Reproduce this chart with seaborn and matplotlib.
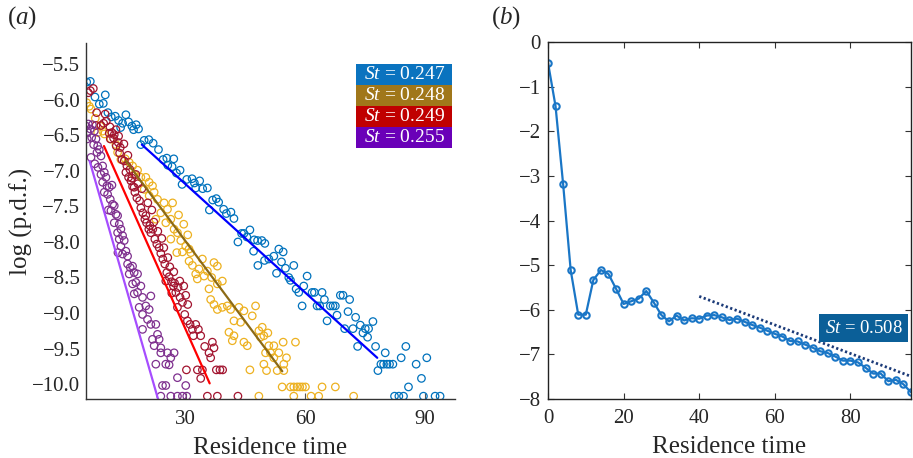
import matplotlib
matplotlib.use("Agg")
import matplotlib.pyplot as plt
import seaborn as sns
from matplotlib.patches import Rectangle

# ---------------- panel (a): log p.d.f. of residence time ----------------
st247_t = [5.17, 6.08, 7.25, 8.33, 9.33, 9.83, 10.5, 11.33, 12.33, 13.17, 13.67, 14.17, 15.0, 15.67,
           16.5, 16.92, 17.58, 18.17, 18.75, 19.58, 20.75, 21.83, 23.17, 24.33, 25.25, 25.5, 26.58,
           27.0, 27.67, 28.58, 29.08, 30.25, 31.58, 32.17, 32.5, 33.5, 34.25, 35.42, 35.92, 36.75,
           37.67, 38.25, 39.5, 40.17, 41.33, 42.08, 43.08, 44.0, 44.58, 45.33, 46.08, 47.0, 47.17,
           48.0, 48.08, 49.08, 49.75, 49.83, 50.83, 52.08, 52.75, 53.33, 54.0, 54.42, 55.0, 55.83,
           56.25, 57.08, 57.67, 58.33, 59.17, 59.58, 60.42, 61.67, 62.25, 62.92, 63.58, 64.17, 64.75,
           65.42, 66.25, 66.92, 67.5, 67.92, 68.75, 69.42, 69.83, 70.67, 71.08, 71.92, 72.58, 73.08,
           73.75, 74.42, 75.0, 75.58, 75.83, 76.92, 77.58, 78.17, 78.92, 79.58, 80.0, 80.42, 81.08,
           81.92, 82.33, 83.42, 84.0, 84.58, 85.17, 85.83, 87.75, 89.08, 89.58, 90.42, 92.5, 93.75]
st247_logp = [-5.75, -5.74, -5.96, -6.06, -6.05, -5.93, -6.18, -6.24, -6.23, -6.29, -6.39, -6.33, -6.21,
              -6.31, -6.37, -6.42, -6.35, -6.41, -6.63, -6.57, -6.56, -6.61, -6.70, -6.84, -6.82, -6.92,
              -6.94, -6.83, -7.03, -6.99, -7.19, -7.12, -7.11, -7.17, -7.24, -7.14, -7.25, -7.24, -7.55,
              -7.41, -7.39, -7.44, -7.54, -7.60, -7.58, -7.67, -8.00, -7.88, -7.88, -7.93, -7.83, -8.13,
              -7.97, -7.98, -8.33, -7.98, -8.26, -8.02, -8.24, -8.20, -8.44, -8.10, -8.28, -8.14, -8.37,
              -8.50, -8.54, -8.33, -8.66, -8.71, -8.90, -8.62, -8.48, -8.71, -8.71, -8.90, -8.90, -8.71,
              -8.81, -9.11, -8.90, -8.90, -8.90, -9.03, -8.75, -8.75, -9.22, -8.98, -8.81, -9.22, -9.06,
              -9.47, -9.17, -9.28, -9.22, -9.34, -9.22, -9.12, -9.47, -9.81, -9.72, -9.72, -9.56, -9.72,
              -9.72, -9.72, -10.17, -10.17, -9.63, -10.17, -9.47, -10.04, -9.72, -9.92, -10.17, -9.63,
              -10.17, -10.17]

st248_t = [5.17, 5.83, 6.25, 7.33, 7.92, 8.58, 9.17, 9.58, 11.25, 12.5, 12.92, 13.75, 14.83, 15.83,
           16.67, 17.08, 17.92, 18.75, 19.58, 20.0, 20.83, 20.83, 21.67, 22.08, 22.5, 22.92, 23.75,
           24.58, 25.0, 25.42, 26.25, 26.25, 26.7, 27.08, 27.75, 27.92, 28.2, 28.75, 29.17, 29.5, 30.0,
           30.5, 30.83, 30.83, 31.25, 31.67, 32.5, 32.9, 33.3, 34.17, 34.58, 35.42, 35.83, 36.25, 36.5,
           37.08, 37.08, 37.92, 37.92, 37.92, 39.17, 39.17, 40.42, 40.83, 41.25, 41.67, 42.08, 42.08,
           43.33, 43.75, 44.58, 44.58, 45.42, 46.08, 46.67, 47.5, 48.33, 48.33, 48.75, 49.17, 49.58,
           49.58, 50.0, 50.25, 50.58, 50.83, 51.25, 52.08, 52.08, 52.92, 53.33, 54.17, 54.42, 54.58,
           54.58, 55.25, 56.25, 57.08, 57.08, 57.5, 57.92, 58.58, 59.25, 60.0, 61.42, 63.33, 64.17,
           67.5, 72.08]
st248_logp = [-6.04, -6.09, -6.13, -6.26, -6.46, -6.37, -6.44, -6.48, -6.55, -6.63, -6.74, -6.84, -6.83,
              -6.88, -6.93, -7.05, -6.99, -7.09, -7.26, -7.09, -7.16, -7.35, -7.21, -7.30, -7.68, -7.40,
              -7.59, -7.45, -7.73, -7.54, -7.68, -7.96, -7.45, -7.82, -8.15, -7.87, -7.62, -7.98, -8.14,
              -7.75, -8.06, -7.90, -8.10, -8.27, -8.15, -8.33, -8.45, -8.52, -8.38, -8.24, -8.48, -8.41,
              -8.66, -8.81, -8.50, -8.29, -8.88, -8.34, -8.59, -8.95, -8.55, -8.92, -8.90, -9.27, -8.95,
              -9.39, -9.11, -9.32, -8.92, -9.13, -8.97, -9.41, -9.46, -9.80, -9.04, -8.90, -9.25, -10.17,
              -9.34, -9.20, -9.32, -9.72, -9.56, -9.81, -9.28, -9.46, -9.56, -9.46, -9.63, -9.81, -9.56,
              -10.04, -9.41, -9.72, -9.81, -9.63, -10.04, -10.04, -10.17, -9.41, -10.04, -10.04, -10.04,
              -10.04, -10.17, -10.17, -10.04, -10.04, -10.17]

st249_t = [5.58, 6.08, 6.83, 7.5, 7.67, 8.75, 9.42, 9.8, 10.08, 10.83, 11.0, 11.08, 11.5, 11.92, 12.08,
           12.5, 12.58, 13.08, 13.17, 13.42, 13.58, 14.0, 14.5, 14.58, 15.0, 15.25, 15.5, 15.67, 16.0,
           16.25, 16.5, 16.67, 17.08, 17.25, 17.5, 17.75, 18.0, 18.42, 18.75, 19.0, 19.25, 19.75, 20.0,
           20.17, 20.5, 20.75, 21.0, 21.25, 21.5, 21.75, 22.0, 22.25, 22.75, 23.0, 23.33, 23.75, 24.0,
           24.25, 24.5, 24.75, 25.0, 25.25, 25.5, 25.83, 26.0, 26.42, 26.5, 26.92, 27.0, 27.2, 27.5,
           27.92, 28.08, 28.5, 28.58, 29.17, 29.5, 29.75, 30.0, 30.17, 30.42, 30.5, 31.08, 31.67, 31.92,
           32.5, 32.92, 33.17, 33.75, 33.75, 34.17, 34.75, 35.42, 35.83, 36.25, 36.67, 37.08, 37.67,
           37.92, 38.58, 39.25, 43.08]
st249_logp = [-5.90, -5.87, -5.84, -6.36, -6.18, -6.36, -6.33, -6.20, -6.30, -6.47, -6.38, -6.55, -6.46,
              -6.54, -6.49, -6.42, -6.65, -6.60, -6.51, -6.75, -6.67, -6.84, -6.62, -6.86, -7.02, -6.93,
              -6.78, -7.09, -6.98, -7.14, -7.10, -7.22, -7.23, -7.30, -7.05, -7.38, -7.18, -7.42, -7.52,
              -7.25, -7.59, -7.68, -7.63, -7.73, -7.45, -7.82, -7.77, -7.87, -7.55, -7.82, -7.72, -7.96,
              -8.03, -7.85, -8.08, -8.16, -7.95, -8.24, -8.08, -8.31, -8.55, -8.43, -8.22, -8.49, -8.35,
              -8.56, -8.72, -8.62, -8.42, -8.58, -8.71, -8.92, -8.64, -8.55, -8.78, -8.85, -8.62, -9.02,
              -8.75, -9.80, -9.11, -8.88, -9.16, -9.23, -9.32, -9.16, -9.80, -9.23, -9.32, -9.92, -9.80,
              -9.47, -10.17, -9.56, -9.63, -9.41, -9.49, -9.80, -10.17, -9.80, -9.80, -10.17]

st255_t = [5.0, 5.3, 5.42, 5.58, 6.08, 6.25, 6.42, 6.6, 6.92, 7.08, 7.2, 7.5, 7.75, 7.92, 8.0, 8.33, 8.75,
           8.75, 9.17, 9.17, 9.58, 9.58, 10.0, 10.25, 10.42, 10.6, 10.83, 11.08, 11.25, 11.5, 11.67,
           12.08, 12.08, 12.5, 12.92, 12.92, 13.0, 13.33, 13.33, 13.75, 13.75, 14.17, 14.17, 14.58, 15.0,
           15.42, 15.42, 15.83, 16.08, 16.67, 16.67, 17.08, 17.08, 17.5, 17.92, 17.92, 18.33, 18.75,
           19.17, 19.17, 19.17, 20.0, 20.42, 20.83, 21.25, 21.25, 21.67, 22.08, 22.5, 22.5, 22.92, 23.33,
           23.75, 23.75, 23.75, 24.17, 25.0, 25.0, 25.42, 25.83, 26.25, 26.25, 27.08, 27.92, 27.92,
           29.17, 30.0, 30.25]
st255_logp = [-6.37, -6.55, -6.46, -6.34, -6.41, -6.81, -6.53, -6.35, -6.63, -6.44, -6.90, -6.55, -6.74,
              -6.65, -6.95, -6.70, -6.79, -7.05, -6.93, -7.16, -7.02, -7.30, -7.09, -7.21, -7.33, -7.55,
              -7.23, -7.40, -7.56, -7.20, -7.47, -7.49, -7.73, -7.61, -7.63, -7.87, -8.15, -7.75, -7.96,
              -7.82, -8.06, -7.91, -8.17, -7.98, -8.13, -8.20, -8.31, -8.45, -8.36, -8.34, -8.59, -8.43,
              -8.73, -8.57, -8.45, -8.71, -8.92, -8.62, -8.78, -9.02, -9.23, -8.90, -9.09, -8.95, -8.76,
              -9.16, -9.37, -9.46, -9.16, -9.72, -9.30, -9.37, -9.49, -9.56, -10.17, -10.02, -9.72,
              -10.02, -9.56, -9.73, -9.63, -10.17, -9.56, -9.91, -10.17, -10.17, -10.02, -10.17]

# exponential-decay fits (start/end of each fitted segment)
fit_t0 = [19.0, 15.0, 9.5, 5.9]
fit_t1 = [78.0, 54.2, 36.0, 23.0]
fit_y0 = [-6.63, -6.86, -6.65, -6.86]
fit_y1 = [-9.63, -9.82, -9.99, -10.20]

st_labels = ["0.247", "0.248", "0.249", "0.255"]
marker_colors = ["#0072BD", "#EDB120", "#A2142F", "#7E2F8E"]
fit_colors = ["#0000FF", "#8C6A16", "#FF0000", "#A64DFF"]
label_colors = ["#0A73BF", "#A0771A", "#C00000", "#6A00B8"]

# ---------------- panel (b) ----------------
b_t = list(range(0, 98, 2))
b_logp = [-0.46, -1.44, -3.18, -5.11, -6.11, -6.11, -5.33, -5.11, -5.20, -5.53, -5.87, -5.81, -5.75,
          -5.58, -5.84, -6.12, -6.26, -6.13, -6.24, -6.19, -6.20, -6.13, -6.12, -6.17, -6.23, -6.20,
          -6.27, -6.34, -6.40, -6.47, -6.54, -6.60, -6.70, -6.71, -6.78, -6.85, -6.93, -6.97, -7.05,
          -7.14, -7.14, -7.18, -7.30, -7.43, -7.43, -7.60, -7.57, -7.67, -7.85]
b_fit_t = [40.0, 95.6]
b_fit_y = [-5.70, -7.48]
b_label = "0.508"

# ---------------- style ----------------
sns.set_theme(style="white")
plt.rcParams["font.family"] = ["Liberation Serif", "DejaVu Serif"]
plt.rcParams["mathtext.fontset"] = "custom"
plt.rcParams["mathtext.rm"] = "Liberation Serif"
plt.rcParams["mathtext.it"] = "Liberation Serif:italic"
plt.rcParams["axes.unicode_minus"] = True

fig = plt.figure(figsize=(9.13, 4.58), dpi=100)
ax1 = fig.add_axes([0.0942, 0.1288, 0.4042, 0.7773])
ax2 = fig.add_axes([0.6002, 0.1288, 0.3976, 0.7795])

series = [(st247_t, st247_logp), (st248_t, st248_logp), (st249_t, st249_logp), (st255_t, st255_logp)]
for (t, lp), mc in zip(series, marker_colors):
    sns.scatterplot(x=t, y=lp, ax=ax1, marker="o", s=29, color=mc, edgecolor=mc, linewidth=0.9)
    ax1.collections[-1].set_facecolor("none")

for t0, t1, y0, y1, fc in zip(fit_t0, fit_t1, fit_y0, fit_y1, fit_colors):
    sns.lineplot(x=[t0, t1], y=[y0, y1], ax=ax1, color=fc, lw=1.6)

ax1.set_xlim(5.0, 97.5)
ax1.set_ylim(-10.21, -5.2)
ax1.set_xticks([30, 60, 90])
ax1.set_yticks([-5.5, -6.0, -6.5, -7.0, -7.5, -8.0, -8.5, -9.0, -9.5, -10.0])
ax1.set_yticklabels([f"\u2212{abs(v):.1f}" for v in ax1.get_yticks()])
for s in ["top", "right"]:
    ax1.spines[s].set_visible(False)
for s in ["left", "bottom"]:
    ax1.spines[s].set_color("#333333")
    ax1.spines[s].set_linewidth(1.0)
ax1.tick_params(axis="x", direction="in", length=4, width=0.8, color="#555555",
                labelsize=15, pad=8, bottom=True)
ax1.tick_params(axis="y", length=0, labelsize=15, pad=4, left=True)
ax1.set_xlabel("Residence time", fontsize=18, labelpad=6)
ax1.set_ylabel("log (p.d.f.)", fontsize=18)
ax1.yaxis.set_label_coords(-0.144, 0.5)

# colour-coded St key
row_h = 0.059
x0_key, w_key = 0.732, 0.260
for i, (lab, col) in enumerate(zip(st_labels, label_colors)):
    ytop = 0.941 - i * row_h
    ax1.add_patch(Rectangle((x0_key, ytop - row_h), w_key, row_h, transform=ax1.transAxes,
                            facecolor=col, edgecolor="none", clip_on=False, zorder=5))
    ax1.text(x0_key + w_key / 2, ytop - row_h / 2, r"$\mathit{St}$ = " + lab, transform=ax1.transAxes,
             ha="center", va="center", color="white", fontsize=14, zorder=6)

fig.text(0.008, 0.962, r"($\mathit{a}$)", fontsize=18, ha="left", va="center")

# panel (b)
b_col = "#1A76C6"
sns.lineplot(x=b_t, y=b_logp, ax=ax2, color=b_col, lw=1.6, marker="o", markersize=4.6,
             markerfacecolor="none", markeredgecolor=b_col, markeredgewidth=1.5)
sns.lineplot(x=b_fit_t, y=b_fit_y, ax=ax2, color="#1B3A78", lw=2.0, linestyle=(0, (0.8, 0.9)))
ax2.set_xlim(0, 96)
ax2.set_ylim(-8, 0)
ax2.set_xticks([0, 20, 40, 60, 80])
ax2.set_yticks(list(range(0, -9, -1)))
ax2.set_yticklabels(["0"] + [f"\u2212{k}" for k in range(1, 9)])
for s in ax2.spines.values():
    s.set_color("#222222")
    s.set_linewidth(1.0)
ax2.tick_params(direction="in", length=4, width=0.8, top=True, right=True, bottom=True, left=True,
                labelsize=15, pad=7, color="#333333")
ax2.tick_params(axis="y", pad=5)
ax2.set_xlabel("Residence time", fontsize=18, labelpad=6)
ax2.set_ylabel("")
ax2.text(83.5, -6.41, r"$\mathit{St}$ = " + b_label, ha="center", va="center", color="white",
         fontsize=13.5, bbox=dict(boxstyle="square,pad=0.3", facecolor="#0B5F98", edgecolor="none"))

fig.text(0.538, 0.962, r"($\mathit{b}$)", fontsize=18, ha="left", va="center")

fig.savefig("out.png", dpi=100)
